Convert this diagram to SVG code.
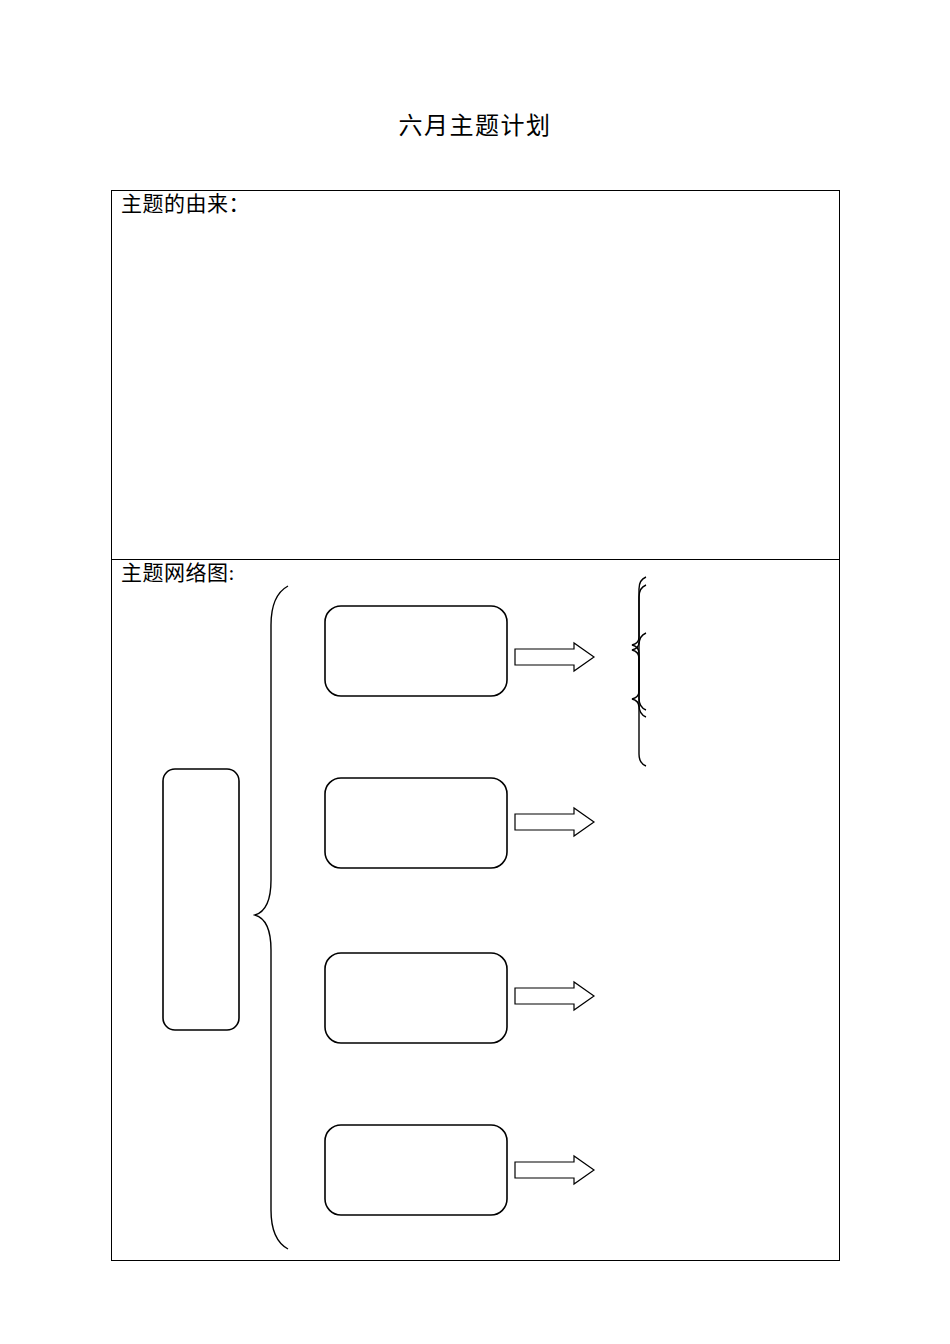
<svg xmlns="http://www.w3.org/2000/svg" width="950" height="1344" viewBox="0 0 950 1344">
<style>
.t{font-family:"Liberation Serif","Noto Sans CJK SC",serif;fill:#000}
.ln{fill:none;stroke:#000;stroke-width:1}
.box{fill:#fff;stroke:#000;stroke-width:1.6}
.br{fill:none;stroke:#000;stroke-width:1.4}
.ar{fill:#fff;stroke:#000;stroke-width:1.2}
</style>
<rect width="950" height="1344" fill="#fff"/>
<text class="t" x="475" y="134" font-size="24" text-anchor="middle" letter-spacing="1.5">六月主题计划</text>
<g id="table">
<rect class="ln" x="111.5" y="190.5" width="728" height="1070"/>
<line class="ln" x1="111.5" y1="559.5" x2="839.5" y2="559.5"/>
<text class="t" x="121" y="211" font-size="21" letter-spacing="0.5">主题的由来：</text>
<text class="t" x="121" y="580" font-size="21" letter-spacing="0.5">主题网络图:</text>
</g>
<g id="center-node"><rect class="box" x="163" y="769" width="76" height="261" rx="12"/></g>
<g id="node1"><rect class="box" x="325" y="606" width="182" height="90" rx="16"/></g>
<g id="node2"><rect class="box" x="325" y="778" width="182" height="90" rx="16"/></g>
<g id="node3"><rect class="box" x="325" y="953" width="182" height="90" rx="16"/></g>
<g id="node4"><rect class="box" x="325" y="1125" width="182" height="90" rx="16"/></g>
<g id="connectors">
<path class="br" d="M288,586 C277,592 271,605 271,625 L271,880 C271,900 265,912 255,915 C265,918 271,930 271,950 L271,1210 C271,1230 277,1243 288,1249"/>
<polygon class="ar" points="515,649 574,649 574,643 594,657 574,671 574,665 515,665"/>
<polygon class="ar" points="515,814 574,814 574,808 594,822 574,836 574,830 515,830"/>
<polygon class="ar" points="515,988 574,988 574,982 594,996 574,1010 574,1004 515,1004"/>
<polygon class="ar" points="515,1162 574,1162 574,1156 594,1170 574,1184 574,1178 515,1178"/>
<path class="br" d="M646,577 C641,579 639,583 639,589 L639,642 C639,647 636,649 632,650 C636,651 639,653 639,658 L639,705 C639,711 641,715 646,717"/>
<path class="br" d="M646,585 C641,587 639,591 639,597 L639,637 C639,642 636,644 632,645 C636,646 639,648 639,653 L639,698 C639,704 641,708 646,710"/>
<path class="br" d="M646,633 C641,635 639,639 639,645 L639,691 C639,696 636,698 632,699 C636,700 639,702 639,707 L639,754 C639,760 641,764 646,766"/>
</g>
</svg>
